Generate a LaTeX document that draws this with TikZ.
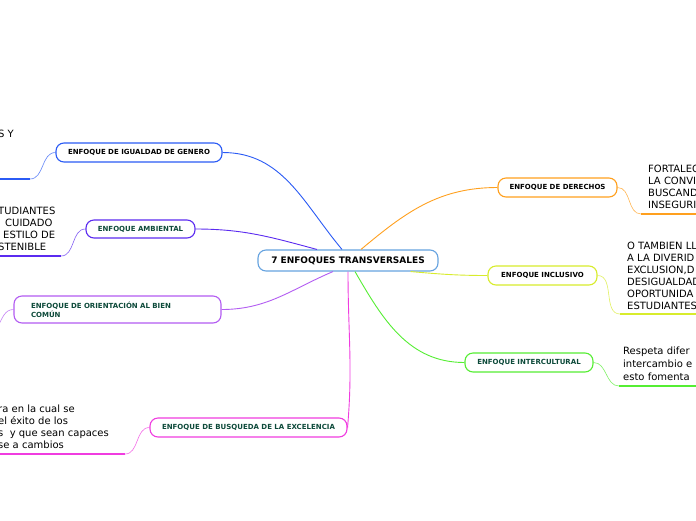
\documentclass[tikz,border=0pt]{standalone}
\usepackage{fontspec}
\setmainfont{DejaVu Sans}
\usetikzlibrary{arrows.meta}

\definecolor{hubline}{HTML}{66A3E0}
\definecolor{igcol}{HTML}{2B5BF5}
\definecolor{amcol}{HTML}{5B2BF0}
\definecolor{orcol}{HTML}{B35CF2}
\definecolor{bqcol}{HTML}{F03CE0}
\definecolor{decol}{HTML}{FFA01E}
\definecolor{incol}{HTML}{D8EC2C}
\definecolor{iccol}{HTML}{55EE33}
\definecolor{leaf}{HTML}{0D4A3A}

\begin{document}
\begin{tikzpicture}[x=1pt, y=1pt,
    topic/.style={draw, rounded corners=8pt, line width=1.1pt, fill=white,
        font=\fontsize{7}{9}\selectfont\bfseries, inner sep=0pt, minimum height=19pt},
    hub/.style={topic, draw=hubline, font=\fontsize{9}{10}\selectfont\bfseries, minimum height=21pt},
    note/.style={anchor=north west, inner sep=0pt, align=left, font=\fontsize{10}{12}\selectfont},
    branch/.style={line width=0.9pt},
    twig/.style={line width=0.6pt, opacity=0.75},
    under/.style={line width=1.6pt}]

    \fill[white] (0,0) rectangle (696,-520);
    \useasboundingbox (0,0) rectangle (696,-520);

    % Define topics
    \node[hub, minimum width=180pt] (hub) at (348,-260.5) {7 ENFOQUES TRANSVERSALES};
    \node[topic, draw=igcol, minimum width=166pt] (ig) at (139,-152.5) {ENFOQUE DE IGUALDAD DE GENERO};
    \node[topic, draw=amcol, text=leaf, minimum width=109pt, minimum height=18pt] (am) at (140.5,-229) {ENFOQUE AMBIENTAL};
    \node[topic, draw=orcol, text=leaf, text width=173pt, inner xsep=17pt, minimum height=27pt, align=left] (or) at (117.5,-309.5) {ENFOQUE DE ORIENTACIÓN AL BIEN\\COMÚN};
    \node[topic, draw=bqcol, text=leaf, minimum width=197pt] (bq) at (248.5,-427.5) {ENFOQUE DE BUSQUEDA DE LA EXCELENCIA};
    \node[topic, draw=decol, minimum width=119pt] (de) at (557.5,-187.5) {ENFOQUE DE DERECHOS};
    \node[topic, draw=incol, minimum width=109pt] (inc) at (542.5,-275.5) {ENFOQUE INCLUSIVO};
    \node[topic, draw=iccol, text=leaf, minimum width=128pt] (ic) at (529,-362.5) {ENFOQUE INTERCULTURAL};

    % Draw branches from the hub
    \draw[branch, igcol] (ig.east) to[out=0, in=130] ([xshift=-6pt]hub.north);
    \draw[branch, amcol] (am.east) to[out=0, in=165] ([xshift=-31pt]hub.north);
    \draw[branch, orcol] (or.east) to[out=0, in=-157] ([xshift=-15pt]hub.south);
    \draw[branch, bqcol] (hub.south) to[out=-90, in=85] (bq.east);
    \draw[branch, decol] ([xshift=13pt]hub.north) to[out=40, in=180] (de.west);
    \draw[branch, incol] ([xshift=-28pt]hub.south east) to[out=-5, in=180] (inc.west);
    \draw[branch, iccol] ([xshift=7pt]hub.south) to[out=-60, in=180] (ic.west);

    % Notes
    \node[note] (igT) at (-2,-130.2) {S Y};
    \node[note] (amT) at (-2,-206.7) {TUDIANTES\\\hspace*{7pt}CUIDADO\\\hspace*{5pt}ESTILO DE\\STENIBLE};
    \node[note] (bqT) at (-2,-404.9) {ra en la cual se\\el éxito de los\\s\ \ y que sean capaces\\se a cambios};
    \node[note] (deT) at (648,-165.2) {FORTALEC\\LA CONVI\\BUSCAND\\INSEGURI};
    \node[note] (incT) at (627,-241.7) {O TAMBIEN LL\\A LA DIVERID\\EXCLUSION,D\\DESIGUALDAD\\OPORTUNIDA\\ESTUDIANTES};
    \node[note, font=\fontsize{10}{13}\selectfont] (icT) at (623,-346.7) {Respeta difer\\intercambio e\\esto fomenta};

    % Underlines and twigs
    \coordinate (igU) at (30,-179);   \coordinate (igL) at (0,-179);
    \coordinate (amU) at (61,-256);   \coordinate (amL) at (0,-256);
    \coordinate (orU) at (-2,-326);
    \coordinate (bqU) at (125,-454);  \coordinate (bqL) at (0,-454);
    \coordinate (deU) at (641,-214);  \coordinate (deR) at (696,-214);
    \coordinate (incU) at (620,-314); \coordinate (incR) at (696,-314);
    \coordinate (icU) at (619,-386);  \coordinate (icR) at (696,-386);

    \draw[twig, igcol] (ig.west) to[out=180, in=0] (igU);
    \draw[under, igcol] (igU) -- (igL);
    \draw[twig, amcol] (am.west) to[out=180, in=0] (amU);
    \draw[under, amcol] (amU) -- (amL);
    \draw[twig, orcol] (or.west) to[out=180, in=60] (orU);
    \draw[twig, bqcol] (bq.west) to[out=180, in=0] (bqU);
    \draw[under, bqcol] (bqU) -- (bqL);
    \draw[twig, decol] (de.east) to[out=0, in=180] (deU);
    \draw[under, decol] (deU) -- (deR);
    \draw[twig, incol] (inc.east) to[out=0, in=180] (incU);
    \draw[under, incol] (incU) -- (incR);
    \draw[twig, iccol] (ic.east) to[out=0, in=180] (icU);
    \draw[under, iccol] (icU) -- (icR);

\end{tikzpicture}
\end{document}
